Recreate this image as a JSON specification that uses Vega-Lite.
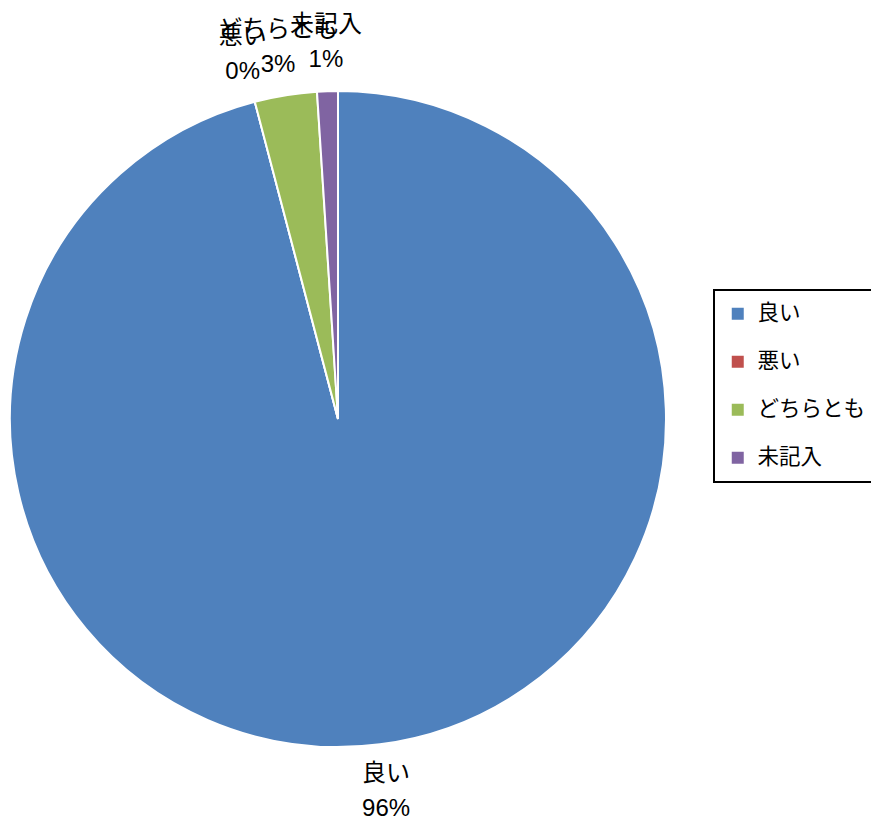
{
  "$schema": "https://vega.github.io/schema/vega-lite/v6.json",
  "width": 676,
  "height": 838,
  "padding": 0,
  "autosize": {"type": "pad"},
  "background": "white",
  "config": {"view": {"stroke": null}, "legend": {"strokeWidth": 2}},
  "data": {
    "values": [
      {"answer": "良い", "count": 94, "pct": "96%", "rank": 1},
      {"answer": "悪い", "count": 0, "pct": "0%", "rank": 2},
      {"answer": "どちらとも", "count": 3, "pct": "3%", "rank": 3},
      {"answer": "未記入", "count": 1, "pct": "1%", "rank": 4}
    ]
  },
  "encoding": {
    "theta": {"field": "count", "type": "quantitative", "stack": true},
    "order": {"field": "rank", "type": "quantitative"}
  },
  "layer": [
    {
      "mark": {"type": "arc", "outerRadius": 328, "stroke": "white", "strokeWidth": 2},
      "encoding": {
        "color": {
          "field": "answer",
          "type": "nominal",
          "scale": {
            "domain": ["良い", "悪い", "どちらとも", "未記入"],
            "range": ["#4F81BD", "#C0504D", "#9BBB59", "#8064A2"]
          },
          "legend": {
            "title": null,
            "orient": "none",
            "legendX": 714,
            "legendY": 290,
            "symbolType": "square",
            "symbolSize": 144,
            "symbolStrokeWidth": 0,
            "labelFont": "Noto Sans CJK JP",
            "labelFontSize": 21.5,
            "labelColor": "black",
            "labelOffset": 9,
            "rowPadding": 25,
            "padding": 13,
            "strokeColor": "black",
            "cornerRadius": 0,
            "fillColor": "white",
            "labelLimit": 300,
            "encode": {"legend": {"update": {"strokeWidth": {"value": 2}}}}
          }
        }
      }
    },
    {
      "mark": {"type": "text", "radius": 376, "dy": -18, "fontSize": 24, "font": "Noto Sans CJK JP", "color": "black", "baseline": "middle", "align": "center"},
      "encoding": {"text": {"field": "answer"}}
    },
    {
      "mark": {"type": "text", "radius": 376, "dy": 17, "fontSize": 24, "font": "Liberation Sans", "color": "black", "baseline": "middle", "align": "center"},
      "encoding": {"text": {"field": "pct"}}
    }
  ]
}
